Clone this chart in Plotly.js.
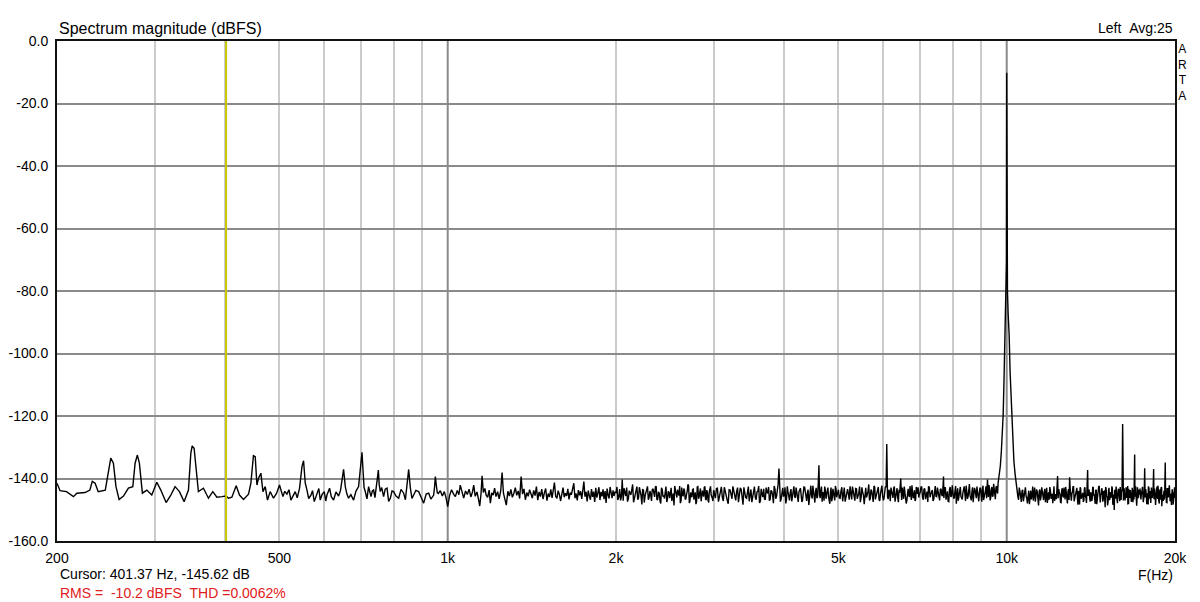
<!DOCTYPE html>
<html>
<head>
<meta charset="utf-8">
<script src="https://cdn.plot.ly/plotly-3.0.1.min.js"></script>
<style>html,body{margin:0;padding:0;background:#fff;}#chart{width:1200px;height:602px;}</style>
</head>
<body>
<div id="chart"></div>
<script>
// ---- Data ----
const lowHz = [
200,202.5,208,214,217,224.5,229,231.3,234,237,
244,247,249.6,252.3,255,258.3,263,268.4,273.3,275.9,
278.5,280.8,284.3,289.5,295.5,301.7,306.7,313.5,319.6,325.3,
331.2,337.6,343.7,347.1,349,351.8,354.8,358.1,365.6,373.2,
380,386.4,394.4,401.4,405.3,411,418.4,424.1,431.2,440.2,
444.5,449.2,452.5,455.7,458.7,463.2,467.1,471.5,476,481.3,
487.9,494,500.1,507.2,511,515.6,520,524.2,533.6,538,
543.2,548.6,552.2,556.1,560,564,569.3,573,577.1,583.5,
588,591.5,596,601.4,605,608.1,614.7,619,624.9,631,
637.9,643,646.9,651.2,655.8,660,664.7,671,678.6,685,
692.7,699.6,702.5,705.4,708.5,712.1,717,721.9,729,733,
736.9,741,747.3,751.5,754,757.5,762,767.9,773,778.8,
784,789.5,795,800.3,808,817,825,834,840,845.8,
851.4,857.4,863,869.1,877,887.2,896,905.7,915,924.6,
933,943.8,947,950.4,954,958];
const lowDb = [
-141.5,-143.9,-144.2,-145.8,-144.7,-144.5,-143.7,-140.9,-141.5,-144.2,
-143.7,-138.3,-133.5,-135.1,-142.6,-146.7,-145.6,-143.1,-142.6,-135.1,
-132.5,-135.1,-144.7,-143.7,-145.3,-141.2,-143.7,-147.7,-145.3,-142.6,
-144.2,-147.4,-143.7,-131.9,-129.6,-130.3,-137.3,-144.2,-143.1,-146.3,
-144.2,-146.0,-145.8,-145.6,-146.3,-146.0,-142.3,-145.3,-146.7,-145.0,
-141.5,-132.7,-133.0,-142.1,-139.9,-138.3,-144.2,-142.6,-146.9,-144.2,
-146.3,-144.8,-142.1,-145.8,-144.1,-145.0,-143.6,-146.9,-144.2,-146.2,
-143.1,-136.2,-134.3,-141.5,-143.7,-146.4,-145.3,-143.9,-147.4,-144.5,
-143.2,-146.9,-145.1,-144.2,-147.2,-145.3,-143.1,-145.8,-146.9,-144.3,
-145.6,-143.8,-140.5,-137.1,-142.6,-144.9,-146.3,-145.2,-146.9,-144.1,
-142.6,-134.1,-131.6,-137.3,-142.9,-144.2,-146.5,-142.6,-145.8,-144.0,
-143.7,-146.1,-139.9,-137.3,-141.8,-144.2,-142.9,-145.8,-143.4,-143.1,
-147.3,-146.3,-144.0,-144.2,-145.6,-146.3,-143.5,-144.7,-146.8,-141.5,
-137.1,-143.1,-146.4,-145.3,-143.8,-144.2,-146.0,-147.9,-145.0,-144.7,
-146.6,-145.3,-142.9,-139.4,-142.1,-144.6];

const midHz = [
962,970,978,986,993,1000,1008,1016,1024,1032,
1040,1047,1053,1060,1068,1076,1084,1092,1100,1107,
1113,1120,1128,1135,1141,1147,1152,1158,1165,1172,
1179,1186,1192,1199,1206,1213,1220,1228,1236,1244,
1251,1258,1265,1273,1281,1289,1297,1305,1313,1321,
1329,1337,1345,1353,1361,1369,1377,1385,1393,1401,
1409,1417,1425,1433,1441,1449,1457,1465,1473,1481,
1489,1497,1505,1513,1521,1529,1537,1545,1552,1560,
1568,1576,1584,1592,1600,1608,1616,1624,1632,1640,
1648,1656,1664,1672,1681,1689,1697,1705,1713,1721,
1729,1737,1745,1752,1760,1768,1776,1784,1792,1800,
1808,1816,1824,1832,1840,1848,1856,1864,1872,1880,
1888,1896,1904,1912,1920,1928,1936,1944,1952,1960,
1968,1976,1984,1992];
const midDb = [
-144.8,-143.9,-145.6,-144.2,-146.1,-149.0,-145.3,-143.6,-144.9,-145.8,
-143.8,-145.2,-142.1,-144.6,-146.3,-144.0,-145.1,-143.4,-145.9,-144.4,
-142.1,-145.7,-144.3,-146.6,-148.8,-144.9,-139.1,-144.5,-143.2,-145.4,
-146.0,-143.7,-147.9,-144.6,-145.3,-143.1,-145.8,-144.2,-146.5,-143.9,
-138.1,-144.7,-146.2,-148.5,-144.1,-145.6,-143.5,-146.0,-144.8,-142.9,
-145.4,-144.0,-146.4,-139.4,-145.0,-143.3,-146.8,-144.5,-145.7,-143.6,
-144.9,-146.3,-143.8,-145.5,-142.6,-146.9,-144.3,-145.8,-143.4,-146.6,
-144.6,-143.2,-147.1,-144.8,-145.9,-143.5,-146.2,-144.0,-141.3,-145.7,
-146.4,-143.9,-145.1,-147.2,-144.4,-142.9,-146.0,-144.7,-145.6,-143.3,
-146.7,-144.5,-145.2,-143.1,-141.5,-146.3,-144.8,-147.0,-143.7,-145.4,
-144.1,-146.5,-143.6,-141.0,-145.8,-144.3,-147.3,-143.9,-145.5,-146.8,
-143.4,-145.9,-144.2,-147.5,-143.0,-146.1,-144.6,-142.8,-146.9,-144.3,
-145.7,-143.5,-146.6,-144.0,-147.8,-143.2,-145.3,-146.4,-142.7,-145.1,
-146.3,-143.8,-145.6,-144.2];

const highHz = [
2000,2015,2030,2045,2052,2060,2075,2090,2105,2120,
2135,2150,2165,2180,2195,2210,2225,2240,2255,2270,
2285,2300,2315,2330,2345,2360,2375,2390,2405,2420,
2435,2450,2465,2480,2495,2510,2525,2540,2555,2570,
2585,2600,2615,2630,2645,2660,2675,2690,2705,2720,
2735,2750,2765,2780,2795,2810,2825,2840,2855,2870,
2885,2900,2915,2930,2945,2960,2975,2990,
3000,3025,3050,3075,3100,3125,3150,3175,3200,3225,
3250,3275,3300,3325,3350,3375,3400,3425,3450,3475,
3500,3525,3550,3575,3600,3625,3650,3675,3700,3725,
3750,3775,3800,3825,3850,3875,3900,3913,3925,3950,
3975,4000,4025,4050,4075,4100,4125,4150,4175,4200,
4225,4250,4275,4300,4325,4350,4375,4400,4425,4450,
4475,4500,4525,4550,4575,4600,4614,4625,4650,4675,
4700,4725,4750,4775,4800,4825,4850,4875,4900,4925,
4950,4975,
5000,5035,5070,5105,5140,5175,5210,5245,5280,5315,
5350,5385,5420,5455,5490,5525,5560,5595,5630,5665,
5700,5735,5770,5805,5840,5875,5910,5945,5980,6015,
6050,6085,6101,6120,6155,6190,6225,6260,6295,6330,
6365,6400,6435,6462,6470,6505,6540,6575,6610,6645,
6680,6715,6750,6785,6820,6855,6890,6925,6960,
7000,7045,7090,7135,7180,7225,7270,7315,7360,7405,
7450,7495,7540,7585,7630,7675,7708,7720,7765,7810,
7855,7900,7945,7990,8035,8080,8125,8170,8215,8260,
8305,8350,8395,8440,8485,8530,8575,8620,8665,8710,
8755,8800,8845,8890,8935,8980,9025,9070,9115,9160,
9205,9238,9250,9295,9340,9385,9430,9475,9520,9565,
9610];
const highDb = [
-144.6,-146.9,-143.4,-145.8,-140.3,-147.1,-144.2,-142.9,-146.4,-144.8,
-143.5,-147.6,-145.1,-142.6,-146.2,-144.3,-148.3,-143.8,-145.5,-142.8,
-146.8,-144.0,-147.2,-143.3,-145.9,-142.5,-146.6,-144.7,-148.0,-143.6,
-145.4,-142.9,-147.5,-144.1,-146.3,-143.0,-145.7,-148.6,-143.7,-146.1,
-144.4,-142.4,-147.0,-145.2,-143.2,-146.7,-144.9,-141.9,-147.8,-144.5,
-146.0,-143.4,-145.6,-148.2,-142.7,-146.5,-144.2,-147.3,-143.9,-145.8,
-142.6,-146.9,-144.7,-147.7,-143.1,-145.3,-146.4,-143.8,
-145.1,-143.2,-147.4,-144.6,-146.2,-142.8,-145.9,-148.1,-143.7,-146.5,
-144.0,-147.0,-142.9,-145.6,-143.5,-148.4,-144.8,-146.3,-142.6,-145.2,
-147.6,-143.9,-146.0,-144.3,-142.4,-147.2,-145.0,-143.3,-146.8,-144.5,
-142.7,-146.6,-144.1,-147.9,-143.4,-145.7,-141.8,-136.8,-144.9,-146.4,
-143.0,-145.5,-148.0,-142.5,-146.1,-144.4,-147.3,-143.6,-145.8,-142.9,
-146.7,-144.2,-143.1,-147.5,-145.3,-142.8,-146.0,-144.7,-148.5,-143.5,
-145.6,-142.3,-147.1,-144.0,-146.3,-141.9,-135.8,-145.2,-143.8,-147.4,
-144.6,-142.6,-146.5,-143.4,-145.9,-148.1,-142.9,-146.2,-144.3,-147.0,
-143.2,-145.4,
-143.6,-146.3,-142.8,-145.5,-147.4,-143.9,-145.0,-142.5,-146.7,-144.2,
-147.1,-143.3,-145.8,-142.6,-146.0,-144.5,-148.2,-143.0,-145.3,-141.9,
-146.4,-144.0,-147.5,-142.7,-145.6,-143.4,-146.8,-144.8,-142.3,-147.0,
-144.3,-142.8,-129.0,-145.9,-143.6,-147.3,-144.1,-146.2,-142.6,-145.4,
-143.1,-147.6,-144.6,-140.0,-145.7,-142.9,-146.5,-144.0,-148.0,-143.3,
-145.2,-142.4,-146.9,-143.8,-145.9,-147.2,-142.7,-144.9,-146.1,
-144.5,-142.6,-146.8,-143.2,-145.4,-147.5,-142.9,-145.0,-143.7,-146.6,
-142.4,-145.8,-144.1,-147.0,-143.3,-145.6,-139.4,-146.2,-142.8,-144.9,
-147.3,-143.5,-145.9,-142.2,-146.4,-144.0,-148.1,-143.1,-145.3,-142.7,
-146.5,-144.4,-142.5,-147.2,-143.8,-145.7,-141.8,-146.0,-144.2,-147.6,
-143.0,-145.5,-142.6,-146.9,-144.6,-143.4,-147.4,-142.3,-145.2,-143.9,
-146.3,-140.3,-144.7,-142.1,-147.0,-143.6,-145.8,-141.7,-146.4,-142.9,
-144.3];

// extra noise-floor readings between the points above (2 k - 9.6 k)
const highFillHz = [
2008,2023,2038,2067,2082,2097,2112,2127,2142,2157,
2172,2187,2202,2217,2232,2247,2262,2277,2292,2307,
2322,2337,2352,2367,2382,2397,2412,2427,2442,2457,
2472,2487,2502,2517,2532,2547,2562,2577,2592,2607,
2622,2637,2652,2667,2682,2697,2712,2727,2742,2757,
2772,2787,2802,2817,2832,2847,2862,2877,2892,2907,
2922,2937,2952,2967,2982,2995,
3012,3037,3062,3087,3112,3137,3162,3187,3212,3237,
3262,3287,3312,3337,3362,3387,3412,3437,3462,3487,
3512,3537,3562,3587,3612,3637,3662,3687,3712,3737,
3762,3787,3812,3837,3862,3887,3937,3962,3987,
4012,4037,4062,4087,4112,4137,4162,4187,4212,4237,
4262,4287,4312,4337,4362,4387,4412,4437,4462,4487,
4512,4537,4562,4587,4637,4662,4687,4712,4737,4762,
4787,4812,4837,4862,4887,4912,4937,4962,4987,
5017,5052,5087,5122,5157,5192,5227,5262,5297,5332,
5367,5402,5437,5472,5507,5542,5577,5612,5647,5682,
5717,5752,5787,5822,5857,5892,5927,5962,5997,6032,
6067,6137,6172,6207,6242,6277,6312,6347,6382,6417,
6487,6522,6557,6592,6627,6662,6697,6732,6767,6802,
6837,6872,6907,6942,6977,
7022,7067,7112,7157,7202,7247,7292,7337,7382,7427,
7472,7517,7562,7607,7652,7742,7787,7832,7877,7922,
7967,8012,8057,8102,8147,8192,8237,8282,8327,8372,
8417,8462,8507,8552,8597,8642,8687,8732,8777,8822,
8867,8912,8957,9002,9047,9092,9137,9182,9272,9317,
9362,9407,9452,9497,9542,9587,9632];
const highFillDb = [
-142.7,-145.9,-147.0,-143.1,-145.6,-147.4,-143.9,-145.2,-141.9,-146.6,
-144.0,-146.8,-142.8,-145.4,-143.4,-147.7,-144.6,-142.5,-146.1,-145.0,
-143.6,-145.3,-142.7,-146.9,-144.3,-147.1,-143.0,-145.8,-146.4,-142.6,
-146.7,-144.5,-143.3,-147.2,-144.8,-142.4,-146.0,-143.6,-145.5,-147.9,
-142.9,-145.7,-143.8,-146.5,-144.1,-142.3,-147.3,-145.1,-143.5,-146.8,
-144.4,-147.5,-142.6,-145.9,-143.2,-146.2,-144.9,-142.8,-146.6,-143.7,
-147.0,-144.3,-142.5,-145.6,-147.2,-144.0,
-146.3,-143.1,-145.8,-142.7,-147.2,-144.4,-146.9,-143.6,-145.0,-142.5,
-146.4,-144.2,-147.6,-143.0,-145.7,-142.8,-146.1,-144.9,-147.3,-143.5,
-145.4,-142.6,-146.8,-144.1,-147.8,-143.3,-145.9,-146.6,-142.9,-144.7,
-147.1,-143.8,-145.3,-142.4,-146.5,-144.0,-147.4,-143.2,-145.6,
-142.8,-146.7,-144.3,-147.0,-143.4,-145.8,-142.5,-146.2,-144.6,-147.5,
-143.1,-145.1,-146.9,-142.7,-144.8,-147.2,-143.6,-145.5,-142.3,-146.4,
-144.1,-147.7,-143.0,-145.9,-146.3,-142.6,-144.5,-147.1,-143.7,-145.2,
-142.9,-146.8,-144.4,-147.3,-143.3,-145.7,-142.4,-146.0,-144.2,
-146.2,-144.0,-147.3,-142.9,-145.6,-143.4,-146.8,-144.5,-142.6,-145.9,
-143.2,-146.5,-144.7,-147.6,-142.8,-145.3,-143.7,-146.1,-144.2,-147.0,
-143.5,-145.8,-142.4,-146.7,-144.9,-142.7,-147.2,-143.9,-145.4,-146.4,
-142.5,-146.6,-144.3,-142.9,-145.7,-143.1,-147.4,-144.6,-146.0,-143.6,
-146.9,-144.1,-142.6,-145.5,-147.1,-143.3,-145.9,-144.4,-142.2,-146.3,
-143.8,-146.7,-144.0,-142.8,-145.1,
-142.8,-145.9,-143.4,-146.6,-144.2,-142.5,-146.0,-143.8,-147.2,-144.5,
-145.7,-142.9,-146.4,-143.5,-145.3,-143.0,-146.8,-144.1,-147.4,-142.7,
-145.6,-143.9,-146.2,-142.4,-145.0,-147.1,-143.3,-145.8,-146.7,-142.6,
-144.9,-142.3,-146.5,-143.7,-145.4,-147.0,-142.8,-145.2,-143.6,-146.3,
-144.0,-147.3,-142.9,-145.7,-143.2,-146.9,-144.6,-142.5,-145.9,-143.4,
-146.1,-142.7,-145.5,-143.8,-146.6,-142.4,-144.8];

const peakHz = [9650,9700,9740,9780,9820,9855,9890,9920,9950,9975,9990,10000,10010,10030,10060,10100,10140,10180,10210,10250,10300,10350,10390];
const peakDb = [-141.5,-139.0,-136.0,-131.5,-126.0,-119.5,-108.0,-99.0,-87.0,-76.0,-70.5,-10.2,-71.0,-80.0,-87.5,-94.0,-106.0,-114.0,-121.0,-128.0,-134.5,-138.5,-141.5];

const topHz = [
10440,10500,10560,10620,10680,10740,10800,10860,10920,10980,
11040,11100,11160,11220,11280,11340,11400,11460,11520,11580,
11640,11700,11760,11820,11880,11940,12000,12060,12120,12180,
12240,12300,12331,12360,12420,12480,12540,12600,12660,12720,
12780,12840,12900,12958,13020,13080,13140,13200,13260,13320,
13380,13440,13500,13560,13620,13680,13740,13800,13860,13920,
13955,13980,14040,14100,14160,14220,14280,14340,14400,14460,
14520,14580,14640,14700,14760,14820,14880,14940,15000,15060,
15120,15180,15240,15300,15360,15420,15480,15540,15573,15600,
15660,15720,15780,15840,15900,15960,16020,16080,16120,16160,
16220,16280,16340,16400,16460,16520,16580,16640,16700,16760,
16820,16880,16939,16960,17020,17080,17140,17200,17260,17320,
17380,17440,17500,17560,17620,17652,17680,17740,17800,17860,
17920,17980,18040,18100,18160,18220,18280,18315,18340,18400,
18460,18520,18580,18640,18700,18760,18820,18880,18940,19000,
19060,19120,19180,19213,19240,19300,19360,19420,19480,19540,
19600,19660,19720,19780,19840,19900,19960,20000];
const topDb = [
-143.2,-146.8,-144.1,-147.5,-143.6,-145.9,-142.8,-146.3,-144.7,-148.2,
-143.9,-145.4,-147.1,-142.9,-146.0,-144.3,-148.6,-143.5,-145.7,-144.0,
-146.9,-143.3,-145.2,-147.8,-144.4,-142.7,-146.5,-144.9,-143.6,-147.2,
-145.0,-143.1,-139.2,-146.3,-144.5,-147.6,-143.8,-145.5,-142.9,-146.7,
-144.2,-148.0,-143.4,-139.6,-146.1,-144.8,-142.6,-147.3,-145.1,-143.7,
-146.4,-144.0,-148.3,-143.2,-145.8,-144.6,-147.0,-142.8,-146.2,-144.3,
-137.3,-145.6,-143.5,-147.4,-144.9,-146.6,-142.9,-145.3,-148.1,-143.8,
-146.0,-144.4,-142.6,-147.7,-145.2,-143.9,-146.8,-144.1,-149.2,-143.4,
-145.9,-147.5,-143.0,-146.3,-144.7,-142.5,-148.4,-145.1,-150.1,-143.6,
-146.5,-144.2,-147.9,-143.3,-145.6,-142.7,-146.9,-144.0,-122.6,-145.3,
-143.1,-147.0,-144.6,-146.2,-142.4,-148.0,-145.4,-143.7,-146.8,-144.3,
-147.6,-143.5,-132.3,-145.8,-144.1,-148.7,-142.8,-146.3,-144.9,-143.2,
-146.7,-145.0,-142.9,-147.4,-144.4,-136.7,-146.1,-143.8,-148.2,-145.5,
-142.6,-146.4,-144.0,-147.8,-143.4,-145.7,-141.9,-137.0,-146.6,-144.2,
-148.5,-143.6,-145.9,-142.3,-147.1,-144.8,-146.3,-143.0,-148.9,-145.2,
-143.9,-146.7,-142.5,-134.9,-145.4,-147.6,-143.3,-146.0,-144.5,-142.2,
-147.3,-144.9,-146.1,-143.5,-148.4,-145.0,-142.8,-146.2];

// extra noise-floor readings between the points above (10.4 k - 20 k)
const topFillHz = [
10470,10530,10590,10650,10710,10770,10830,10890,10950,11010,
11070,11130,11190,11250,11310,11370,11430,11490,11550,11610,
11670,11730,11790,11850,11910,11970,12030,12090,12150,12210,
12270,12390,12450,12510,12570,12630,12690,12750,12810,12870,
12930,12990,13050,13110,13170,13230,13290,13350,13410,13470,
13530,13590,13650,13710,13770,13830,13890,14010,14070,14130,
14190,14250,14310,14370,14430,14490,14550,14610,14670,14730,
14790,14850,14910,14970,15030,15090,15150,15210,15270,15330,
15390,15450,15510,15630,15690,15750,15810,15870,15930,15990,
16050,16170,16230,16290,16350,16410,16470,16530,16590,16650,
16710,16770,16830,16890,17010,17070,17130,17190,17250,17310,
17370,17430,17490,17550,17610,17730,17790,17850,17910,17970,
18030,18090,18150,18210,18270,18390,18450,18510,18570,18630,
18690,18750,18810,18870,18930,18990,19050,19110,19170,19290,
19350,19410,19470,19530,19590,19650,19710,19770,19830,19890,
19950];
const topFillDb = [
-145.8,-142.9,-146.4,-144.0,-147.3,-143.2,-145.6,-148.0,-143.9,-145.1,
-146.7,-142.6,-144.8,-147.4,-143.5,-146.2,-144.1,-147.0,-142.8,-146.5,
-144.3,-147.6,-143.0,-145.5,-146.8,-143.7,-145.2,-147.9,-142.5,-145.9,
-146.6,-143.4,-145.0,-147.7,-143.1,-146.1,-144.5,-142.7,-147.2,-144.2,
-146.9,-143.5,-147.1,-144.3,-142.6,-146.3,-145.4,-143.0,-148.4,-144.7,
-142.8,-146.5,-144.9,-147.5,-143.3,-145.8,-147.8,-143.9,-146.0,-144.4,
-147.2,-142.9,-145.3,-146.8,-143.6,-148.2,-144.5,-142.4,-146.6,-145.0,
-143.1,-147.4,-144.2,-146.3,-142.7,-145.7,-148.6,-143.8,-146.9,-144.6,
-146.1,-143.2,-147.7,-144.4,-142.6,-146.8,-145.1,-143.5,-147.3,-145.9,
-143.7,-147.0,-144.0,-146.4,-142.8,-145.6,-148.1,-143.3,-146.2,-144.8,
-147.5,-143.0,-145.4,-146.7,-142.5,-147.9,-144.3,-146.0,-143.6,-145.2,
-146.6,-144.1,-142.7,-147.6,-145.5,-143.4,-146.9,-144.7,-148.3,-143.1,
-145.8,-147.1,-142.9,-146.2,-144.6,-143.2,-147.4,-145.0,-142.6,-146.5,
-144.2,-148.0,-143.5,-146.7,-142.8,-145.3,-147.2,-143.9,-146.1,-144.0,
-147.7,-143.3,-145.7,-142.4,-146.4,-144.9,-148.5,-143.6,-145.1,-146.8,
-144.4];

const xTickVals = [200, 500, 1000, 2000, 5000, 10000, 20000];
const xTickText = ['200', '500', '1k', '2k', '5k', '10k', '20k'];
const xMinorVals = [300, 400, 500, 600, 700, 800, 900, 2000, 3000, 4000, 5000, 6000, 7000, 8000, 9000];
const xDecadeVals = [1000, 10000];
const yTickVals = [0, -20, -40, -60, -80, -100, -120, -140, -160];
const yTickText = ['0.0', '-20.0', '-40.0', '-60.0', '-80.0', '-100.0', '-120.0', '-140.0', '-160.0'];

const cursorHz = 401.37;
const cursorDb = -145.62;
const rmsDbfs = -10.2;
const thdPct = 0.0062;
const channelText = 'Left\u00a0\u00a0Avg:25';
const brandLetters = ['A', 'R', 'T', 'A'];

// ---- Build: merge all readings and order them by frequency ----
const allHz = lowHz.concat(midHz, highHz, highFillHz, peakHz, topHz, topFillHz);
const allDb = lowDb.concat(midDb, highDb, highFillDb, peakDb, topDb, topFillDb);
const order = allHz.map((f, i) => i).sort((a, b) => allHz[a] - allHz[b]);
const freq = order.map(i => allHz[i]);
const mag = order.map(i => allDb[i]);

const FONT = 'Liberation Sans, Arial, sans-serif';

const traces = [{
  type: 'scatter', mode: 'lines', x: freq, y: mag,
  line: {color: '#000000', width: 1.4},
  hoverinfo: 'x+y', showlegend: false
}];

const shapes = xDecadeVals.map(v => ({
  type: 'line', xref: 'x', yref: 'paper', x0: v, x1: v, y0: 0, y1: 1,
  line: {color: '#8a8a8a', width: 2}, layer: 'below'
}));
shapes.push({
  type: 'line', xref: 'x', yref: 'paper', x0: cursorHz, x1: cursorHz, y0: 0, y1: 1,
  line: {color: '#c8c800', width: 2}, layer: 'above'
});

const annotations = [
  {text: channelText, xref: 'paper', yref: 'paper', x: 1, y: 1.026, xanchor: 'right', yanchor: 'middle',
   showarrow: false, font: {family: FONT, size: 14, color: '#000'}},
  {text: 'F(Hz)', xref: 'paper', yref: 'paper', x: 1, y: -0.068, xanchor: 'right', yanchor: 'middle',
   showarrow: false, font: {family: FONT, size: 14, color: '#000'}},
  {text: 'Cursor: ' + cursorHz.toFixed(2) + ' Hz, ' + cursorDb.toFixed(2) + ' dB',
   xref: 'paper', yref: 'paper', x: 0, y: -0.066, xanchor: 'left', yanchor: 'middle', xshift: 1,
   showarrow: false, font: {family: FONT, size: 14, color: '#000'}},
  {text: 'RMS =\u00a0\u00a0' + rmsDbfs.toFixed(1) + ' dBFS\u00a0\u00a0THD =' + thdPct.toFixed(4) + '%',
   xref: 'paper', yref: 'paper', x: 0, y: -0.103, xanchor: 'left', yanchor: 'middle', xshift: 1,
   showarrow: false, font: {family: FONT, size: 14, color: '#e02020'}},
  {text: brandLetters.join('<br>'), xref: 'paper', yref: 'paper', x: 1.0067, y: 1, xanchor: 'center', yanchor: 'top',
   yshift: 1, align: 'center', showarrow: false, font: {family: FONT, size: 12, color: '#000'}}
];

const layout = {
  width: 1200, height: 602,
  margin: {l: 57, r: 25, t: 41, b: 61, pad: 0},
  paper_bgcolor: '#ffffff', plot_bgcolor: '#ffffff',
  showlegend: false,
  title: {text: 'Spectrum magnitude (dBFS)', font: {family: FONT, size: 16, color: '#000'},
          x: 0, xref: 'paper', xanchor: 'left', y: 1 - 28 / 602, yref: 'container', yanchor: 'middle',
          pad: {l: 2}},
  xaxis: {
    type: 'log', range: [Math.log10(200), Math.log10(20000)],
    tickmode: 'array', tickvals: xTickVals, ticktext: xTickText,
    ticks: '', showgrid: false, zeroline: false,
    minor: {tickmode: 'array', tickvals: xMinorVals, showgrid: true, gridcolor: '#cbcbcb', gridwidth: 2, ticks: ''},
    showline: true, mirror: true, linecolor: '#111', linewidth: 2,
    tickfont: {family: FONT, size: 14, color: '#000'}, ticklabelstandoff: 3
  },
  yaxis: {
    range: [-160, 0], tickmode: 'array', tickvals: yTickVals, ticktext: yTickText,
    ticks: '', showgrid: true, gridcolor: '#8a8a8a', gridwidth: 2, zeroline: false,
    showline: true, mirror: true, linecolor: '#111', linewidth: 2,
    tickfont: {family: FONT, size: 14, color: '#000'}, ticklabelstandoff: 4
  },
  shapes: shapes,
  annotations: annotations
};

Plotly.newPlot('chart', traces, layout, {displayModeBar: false, staticPlot: true});
</script>
</body>
</html>
